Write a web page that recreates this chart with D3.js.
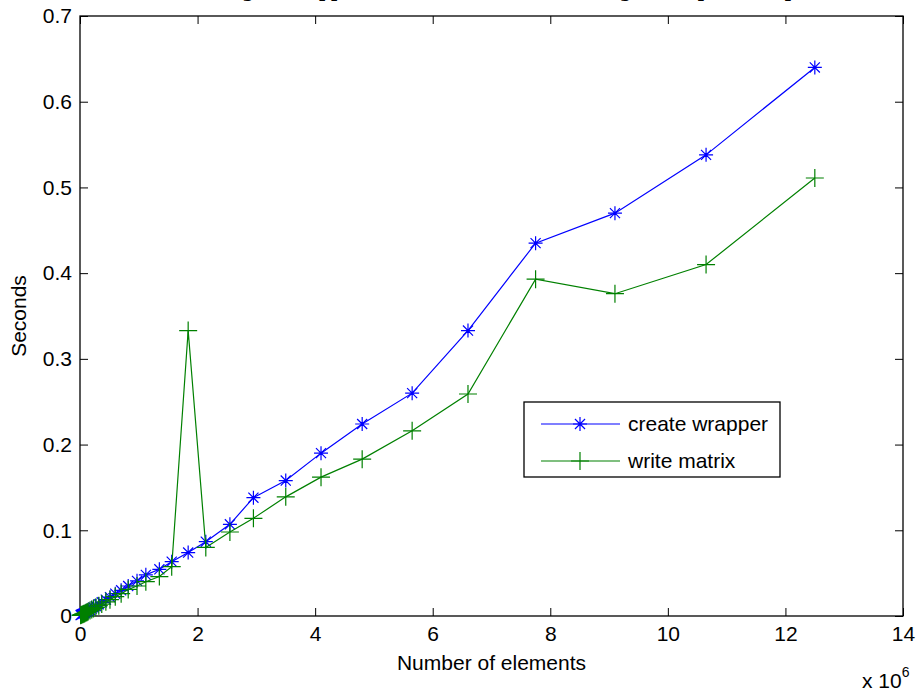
<!DOCTYPE html>
<html>
<head>
<meta charset="utf-8">
<script src="https://cdn.jsdelivr.net/npm/d3@7"></script>
<style>
  html, body { margin: 0; padding: 0; background: #fff; }
  svg { display: block; }
  text { font-family: "Liberation Sans", Arial, sans-serif; }
</style>
</head>
<body>
<svg id="chart" width="918" height="693"></svg>
<script>
// ---- data (x in units of 10^6 elements, y in seconds) ----
const elements = [0.01, 0.02, 0.035, 0.05, 0.065, 0.08, 0.1, 0.12, 0.14, 0.17, 0.2, 0.23, 0.27, 0.32, 0.37, 0.44, 0.51, 0.6, 0.7, 0.82, 0.97, 1.12, 1.35, 1.56, 1.84, 2.14, 2.55, 2.95, 3.5, 4.1, 4.8, 5.65, 6.6, 7.75, 9.1, 10.65, 12.5];
const createWrapper = [0.001, 0.0015, 0.002, 0.0025, 0.003, 0.0035, 0.0045, 0.0053, 0.006, 0.0073, 0.0086, 0.01, 0.0116, 0.0138, 0.016, 0.019, 0.022, 0.026, 0.030, 0.035, 0.041, 0.048, 0.0545, 0.0634, 0.074, 0.0867, 0.107, 0.138, 0.158, 0.190, 0.224, 0.260, 0.333, 0.435, 0.470, 0.538, 0.640];
const writeMatrix = [0.0008, 0.0012, 0.0017, 0.0021, 0.0026, 0.003, 0.0038, 0.0045, 0.0052, 0.0063, 0.0075, 0.0087, 0.0101, 0.012, 0.0139, 0.0165, 0.019, 0.0225, 0.026, 0.031, 0.035, 0.040, 0.046, 0.0575, 0.333, 0.080, 0.098, 0.114, 0.139, 0.162, 0.183, 0.216, 0.259, 0.393, 0.376, 0.41, 0.511];
const xTicks = [0, 2, 4, 6, 8, 10, 12, 14];
const yTicks = [0, 0.1, 0.2, 0.3, 0.4, 0.5, 0.6, 0.7];
const seriesNames = ["create wrapper", "write matrix"];
const seriesColors = ["#0000ff", "#008000"];
const titleText = "Timing of wrapper creation and matrix writing for a sparse map";
const xLabel = "Number of elements";
const yLabel = "Seconds";

const svg = d3.select("#chart");
const L = 80, R = 903, T = 16, B = 616;
const FS = "21px";
const x = d3.scaleLinear().domain([0, 14]).range([L, R]);
const y = d3.scaleLinear().domain([0, 0.7]).range([B, T]);

// title (clipped at top of page as in reference: only descenders visible)
svg.append("text").attr("x", (L + R) / 2).attr("y", -3)
  .attr("text-anchor", "middle")
  .style("font-family", "'DejaVu Serif', serif").style("font-weight", "bold").style("font-size", "17px")
  .text(titleText);

// axes
const fmtY = d => d === 0 ? "0" : d3.format(".1f")(d);
const tickLen = 8;
const axB = d3.axisBottom(x).tickValues(xTicks).tickSize(-tickLen).tickPadding(10).tickFormat(d3.format("d"));
const axT = d3.axisTop(x).tickValues(xTicks).tickSize(-tickLen).tickFormat("");
const axLft = d3.axisLeft(y).tickValues(yTicks).tickSize(-tickLen).tickPadding(8).tickFormat(fmtY);
const axRt = d3.axisRight(y).tickValues(yTicks).tickSize(-tickLen).tickFormat("");

function style(g) {
  g.select(".domain").remove();
  g.selectAll(".tick line").attr("stroke", "#000").attr("stroke-width", 1);
  g.selectAll(".tick text").attr("fill", "#000").style("font-size", FS)
    .style("font-family", "'Liberation Sans', Arial, sans-serif");
}
svg.append("g").attr("transform", `translate(0,${B})`).call(axB).call(style);
svg.append("g").attr("transform", `translate(0,${T})`).call(axT).call(style);
svg.append("g").attr("transform", `translate(${L},0)`).call(axLft).call(style);
svg.append("g").attr("transform", `translate(${R},0)`).call(axRt).call(style);

// frame
svg.append("rect").attr("x", L).attr("y", T).attr("width", R - L).attr("height", B - T)
  .attr("fill", "none").attr("stroke", "#000").attr("stroke-width", 1.3);

// labels
svg.append("text").attr("x", (L + R) / 2).attr("y", 670).attr("text-anchor", "middle")
  .style("font-size", FS).text(xLabel);
svg.append("text").attr("transform", `translate(26,${(T + B) / 2}) rotate(-90)`).attr("text-anchor", "middle")
  .style("font-size", FS).text(yLabel);
const mult = svg.append("text").attr("x", 862).attr("y", 688).style("font-size", FS);
mult.append("tspan").text("x 10");
mult.append("tspan").attr("dy", -11).style("font-size", "14px").text("6");

// marker paths
function starPath(cx, cy, r) {
  const d = r * 0.72;
  return `M${cx - r},${cy}L${cx + r},${cy}M${cx},${cy - r}L${cx},${cy + r}` +
         `M${cx - d},${cy - d}L${cx + d},${cy + d}M${cx - d},${cy + d}L${cx + d},${cy - d}`;
}
function plusPath(cx, cy, r) {
  return `M${cx - r},${cy}L${cx + r},${cy}M${cx},${cy - r}L${cx},${cy + r}`;
}

const series = [
  { name: seriesNames[0], vals: createWrapper, color: seriesColors[0], marker: starPath, r: 7 },
  { name: seriesNames[1], vals: writeMatrix, color: seriesColors[1], marker: plusPath, r: 9 }
];

const line = d3.line().x(d => x(d[0])).y(d => y(d[1]));
series.forEach(s => {
  const pts = elements.map((e, i) => [e, s.vals[i]]);
  svg.append("path").datum(pts).attr("d", line).attr("fill", "none")
    .attr("stroke", s.color).attr("stroke-width", 1.2);
  svg.append("path").attr("d", pts.map(p => s.marker(x(p[0]), y(p[1]), s.r)).join(""))
    .attr("fill", "none").attr("stroke", s.color).attr("stroke-width", 1.2);
});

// legend
const lg = svg.append("g");
lg.append("rect").attr("x", 524).attr("y", 402).attr("width", 256).attr("height", 75)
  .attr("fill", "#fff").attr("stroke", "#000").attr("stroke-width", 1.3);
series.forEach((s, i) => {
  const ly = 424 + i * 37;
  lg.append("line").attr("x1", 541).attr("x2", 620).attr("y1", ly).attr("y2", ly)
    .attr("stroke", s.color).attr("stroke-width", 1.2);
  lg.append("path").attr("d", s.marker(580, ly, s.r)).attr("fill", "none")
    .attr("stroke", s.color).attr("stroke-width", 1.2);
  lg.append("text").attr("x", 628).attr("y", ly + 7).style("font-size", FS).text(s.name);
});
</script>
</body>
</html>
